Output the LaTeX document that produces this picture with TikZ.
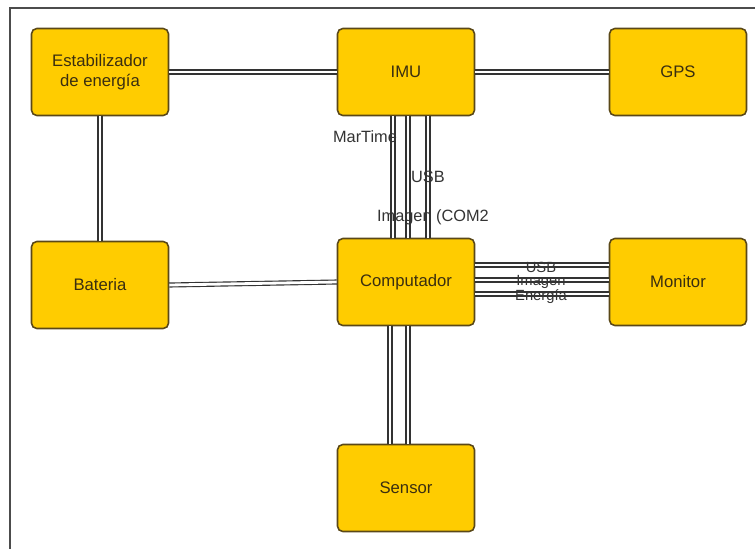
\documentclass[tikz,border=0pt]{standalone}
\usepackage{fontspec}
\setmainfont{Liberation Sans}
\usepackage{xcolor}
\usepackage{tikz}
\definecolor{boxfill}{HTML}{FFCC00}
\definecolor{boxline}{HTML}{5A4818}
\definecolor{boxtext}{HTML}{3A2E10}
\tikzset{
  block/.style={draw=boxline, fill=boxfill, rounded corners=3pt, line width=0.9pt,
    minimum width=2.74cm, minimum height=1.74cm, align=center, text=boxtext,
    font=\fontsize{9.5}{11.5}\selectfont},
  link/.style={draw=black!80, line width=0.65pt, double=white, double distance=1.6pt},
  tag/.style={inner sep=0pt, text=black!80, font=\fontsize{9.3}{10}\selectfont},
  smalltag/.style={tag, font=\fontsize{8.4}{9}\selectfont},
}

\begin{document}
\begin{tikzpicture}[x=0.02cm, y=-0.02cm]
            \useasboundingbox (0,0) rectangle (755,549);
            \draw[black!70, line width=0.6pt] (755,8) -- (10,8) -- (10,549);
            % blocks
            \node[block] (estab) at (100,72) {Estabilizador\\de energía};
            \node[block] (imu) at (406,72) {IMU};
            \node[block] (gps) at (678,72) {GPS};
            \node[block] (bat) at (100,285) {Bateria};
            \node[block] (comp) at (406,282) {Computador};
            \node[block] (mon) at (678,282) {Monitor};
            \node[block] (sensor) at (406,488) {Sensor};
            % links
            \draw[link] (estab) -- (imu);
            \draw[link] (imu) -- (gps);
            \draw[link] (estab) -- (bat);
            \draw[link] (bat.east) -- (comp.west);
            \foreach \dx in {-13,2,22}
              \draw[link] ([xshift=\dx*0.02cm]imu.south) -- ([xshift=\dx*0.02cm]comp.north);
            \foreach \dy in {-17,-2,12}
              \draw[link] ([yshift=-\dy*0.02cm]comp.east) -- ([yshift=-\dy*0.02cm]mon.west);
            \foreach \dx in {-16,2}
              \draw[link] ([xshift=\dx*0.02cm]comp.south) -- ([xshift=\dx*0.02cm]sensor.north);
            % labels
            \node[tag] (lmar) at (365,137) {MarTime};
            \node[tag] (lusb) at (428,177) {USB};
            \node[tag] (lcom) at (433,217) {Imagen (COM2};
            \node[smalltag] (musb) at (541,267) {USB};
            \node[smalltag] (mimg) at (541,282) {Imagen};
            \node[smalltag] (meng) at (541,297) {Energía};
        \end{tikzpicture}
\end{document}
